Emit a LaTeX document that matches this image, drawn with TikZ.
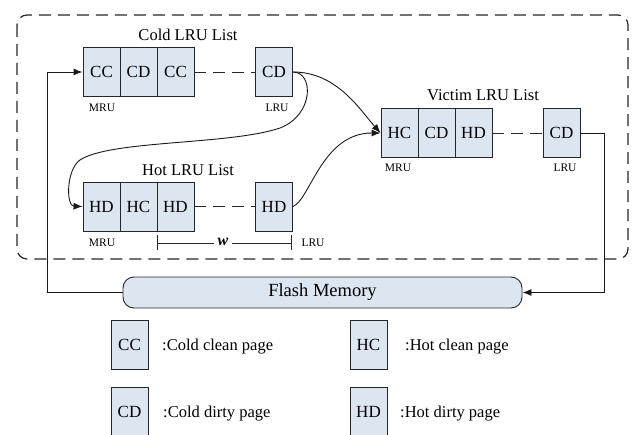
\documentclass[tikz,border=0pt]{standalone}
\usepackage{fontspec}
\setmainfont{Liberation Serif}
\usetikzlibrary{arrows.meta}
\definecolor{boxfill}{RGB}{220,230,241}
\begin{document}
\begin{tikzpicture}[x=1pt,y=-1pt,
 page/.style={draw=black!85, fill=boxfill, line width=0.9pt, minimum width=37pt, minimum height=49pt, inner sep=0pt, font=\fontsize{17}{17}\selectfont},
 lbl/.style={font=\fontsize{11.5}{12}\selectfont, inner sep=0pt},
 ttl/.style={font=\fontsize{16.5}{17}\selectfont, inner sep=0pt},
 leg/.style={font=\fontsize{16.5}{17}\selectfont, inner sep=0pt, anchor=base west},
 link/.style={line width=0.9pt, draw=black!85, dash pattern=on 12pt off 7pt},
 conn/.style={line width=0.9pt, draw=black!90, -{Latex[length=9pt,width=7pt]}},
 flash/.style={draw=black!85, fill=boxfill, line width=0.9pt, rounded corners=11pt, minimum width=399pt, minimum height=31pt, inner sep=0pt, font=\fontsize{18.5}{19}\selectfont},
]
\useasboundingbox (0,0) rectangle (636,435);
\clip (0,0) rectangle (636,435);

% outer dashed frame
\draw[line width=1.2pt, draw=black!85, dash pattern=on 12pt off 7pt, rounded corners=10pt] (17,15) rectangle (628,259);

% Cold LRU list
\node[ttl] (ctitle) at (188,35) {Cold LRU List};
\node[page] (c1) at (101.5,72) {CC};
\node[page] (c2) at (138.5,72) {CD};
\node[page] (c3) at (175.5,72) {CC};
\node[page] (c4) at (274,72) {CD};
\node[lbl] (cmru) at (102,108) {MRU};
\node[lbl] (clru) at (277,108) {LRU};
\draw[link] (c3.east) -- (c4.west);

% Hot LRU list
\node[ttl] (htitle) at (188,170) {Hot LRU List};
\node[page] (h1) at (101.5,206.5) {HD};
\node[page] (h2) at (138.5,206.5) {HC};
\node[page] (h3) at (175.5,206.5) {HD};
\node[page] (h4) at (274,206.5) {HD};
\node[lbl] (hmru) at (102,243) {MRU};
\node[lbl] (hlru) at (313,243) {LRU};
\draw[link] (h3.east) -- (h4.west);

% window w
\coordinate (wl) at (157,243);
\coordinate (wr) at (292,243);
\draw[line width=0.9pt, draw=black!85, {Bar[width=15pt]}-{Bar[width=15pt]}] (wl) -- (wr);
\node[fill=white, inner sep=4pt, font=\fontsize{16}{16}\selectfont] (w) at (223,242) {\textbf{\textit{w}}};

% Victim LRU list
\node[ttl] (vtitle) at (483,95) {Victim LRU List};
\node[page] (v1) at (399.5,133) {HC};
\node[page] (v2) at (436.5,133) {CD};
\node[page] (v3) at (473.5,133) {HD};
\node[page] (v4) at (561.5,133) {CD};
\node[lbl] (vmru) at (398,168) {MRU};
\node[lbl] (vlru) at (565,168) {LRU};
\draw[link] (v3.east) -- (v4.west);

% Flash memory
\node[flash] (fm) at (322.5,292.5) {Flash Memory};

% connectors
\coordinate (lt) at (47,72);
\coordinate (rt) at (604,133);
\draw[conn] (fm.west) -| (lt) -- (c1.west);
\draw[conn] (v4.east) -- (rt) |- (fm.east);
\draw[conn] (c4.east) .. controls (337,72) and (360,110) .. (v1.west);
\draw[conn] (h4.east) .. controls (310,200) and (322,133) .. (v1.west);
\draw[conn] (c4.east) .. controls (314,72) and (314,115) .. (280,128)
  .. controls (230,145) and (110,140) .. (80,160)
  .. controls (66,170) and (66,206) .. (h1.west);

% legend
\node[page] (k1) at (129.5,344.5) {CC};
\node[leg] (k1t) at (162,350) {:Cold clean page};
\node[page] (k2) at (368.5,344.5) {HC};
\node[leg] (k2t) at (405,350) {:Hot clean page};
\node[page] (k3) at (129.5,411.5) {CD};
\node[leg] (k3t) at (163,417.5) {:Cold dirty page};
\node[page] (k4) at (368.5,411.5) {HD};
\node[leg] (k4t) at (400,417.5) {:Hot dirty page};
\end{tikzpicture}
\end{document}
